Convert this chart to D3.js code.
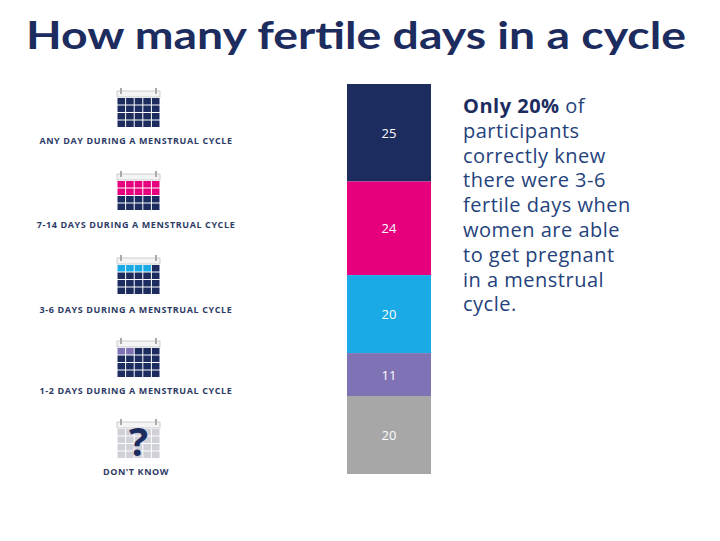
<!DOCTYPE html>
<html><head><meta charset="utf-8">
<script src="https://cdn.jsdelivr.net/npm/d3@7"></script>
<style>body{margin:0;background:#fff;font-family:"Open Sans",sans-serif}</style>
</head><body>
<svg id="chart" width="720" height="541"></svg>
<script>
const categories = ["Any day during a menstrual cycle", "7-14 days during a menstrual cycle", "3-6 days during a menstrual cycle", "1-2 days during a menstrual cycle", "Don't know"];
const values = [25, 24, 20, 11, 20];
const colors = ["#1c2c5f", "#e6007e", "#1aaae6", "#8073b5", "#a7a7a7"];
// which cells of the 5x4 calendar are highlighted
const highlighted = [0, 10, 4, 2, 0];
const noteLines = ["participants", "correctly knew", "there were 3-6", "fertile days when", "women are able", "to get pregnant", "in a menstrual", "cycle."];

const svg = d3.select("#chart");
const navy = "#1c2c5f";

svg.append("text").attr("x", 26).attr("y", 49)
  .attr("font-size", 38).attr("font-weight", "bold").attr("fill", navy)
  .attr("font-family", "Lato, sans-serif")
  .attr("textLength", 660).attr("lengthAdjust", "spacingAndGlyphs")
  .text("How many fertile days in a cycle");

// stacked bar
const y = d3.scaleLinear().domain([0, d3.sum(values)]).range([84, 474]);
let acc = 0;
const stack = values.map(v => { const s = {y0: acc, y1: acc + v, v}; acc += v; return s; });
svg.selectAll("rect.bar").data(stack).join("rect").attr("class", "bar")
  .attr("x", 347).attr("width", 84)
  .attr("y", d => y(d.y0)).attr("height", d => y(d.y1) - y(d.y0))
  .attr("fill", (d, i) => colors[i]);
svg.selectAll("text.val").data(stack).join("text").attr("class", "val")
  .attr("x", 389).attr("y", d => (y(d.y0) + y(d.y1)) / 2 + 5)
  .attr("text-anchor", "middle").attr("fill", "#fff").attr("font-size", 13)
  .text(d => d.v);

// icons + labels
const iconY = [88, 171, 255, 338, 419];
const labelY = [144, 228, 313, 394, 475];
categories.forEach((c, i) => {
  const g = svg.append("g").attr("transform", `translate(117,${iconY[i]})`);
  const dk = i === 4;
  g.append("rect").attr("x", 0).attr("y", 3).attr("width", 43).attr("height", 6)
    .attr("fill", "#f4f4f4").attr("stroke", "#bbb").attr("stroke-width", 0.7);
  [4, 39].forEach(x => g.append("rect").attr("x", x - 1).attr("y", 0).attr("width", 2).attr("height", 6).attr("fill", "#aaa"));
  for (let r = 0; r < 4; r++) for (let k = 0; k < 5; k++) {
    const idx = r * 5 + k;
    let f = dk ? "#cfd0d8" : navy;
    if (idx < highlighted[i]) f = colors[i];
    g.append("rect").attr("x", k * 8.6 + 0.5).attr("y", 10 + r * 7.5)
      .attr("width", 7.6).attr("height", 6.5).attr("fill", f);
  }
  if (dk) g.append("text").attr("x", 21.5).attr("y", 37).attr("text-anchor", "middle")
    .attr("font-size", 40).attr("font-weight", "bold").attr("fill", navy).text("?");
  svg.append("text").attr("x", 136).attr("y", labelY[i]).attr("text-anchor", "middle")
    .attr("font-size", 9).attr("font-weight", "bold").attr("fill", "#2d3b66")
    .attr("letter-spacing", 0.6)
    .text(c.toUpperCase());
});

// note
const note = svg.append("text").attr("font-size", 20).attr("fill", "#24427c").attr("letter-spacing", 0.5);
note.append("tspan").attr("x", 463).attr("y", 113).attr("font-weight", "bold").attr("fill", navy).text("Only 20%");
note.append("tspan").text(" of");
noteLines.forEach((l, i) => note.append("tspan").attr("x", 463).attr("y", 113 + (i + 1) * 24.8).text(l));
</script>
</body></html>
